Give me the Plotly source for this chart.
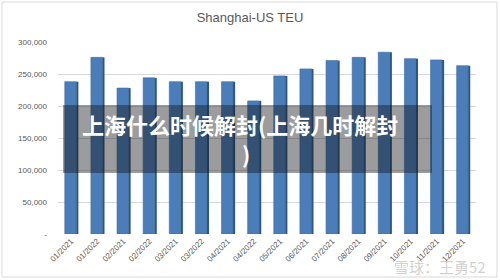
import plotly.graph_objects as go

categories = ["01/2021", "01/2022", "02/2021", "02/2022", "03/2021", "03/2022",
              "04/2021", "04/2022", "05/2021", "06/2021", "07/2021", "08/2021",
              "09/2021", "10/2021", "11/2021", "12/2021"]
teu = [238000, 276000, 228000, 244000, 238000, 238000, 238000, 208000,
       247000, 258000, 271000, 276000, 284000, 274000, 272000, 263000]
y_ticks = [0, 50000, 100000, 150000, 200000, 250000, 300000]
y_tick_labels = ["-", "50,000", "100,000", "150,000", "200,000", "250,000", "300,000"]
overlay_line1 = "上海什么时候解封(上海几时解封"
overlay_line2 = ")"

fig = go.Figure()
# front face
fig.add_trace(go.Bar(x=categories, y=teu, width=0.44, offset=-0.24,
                     marker=dict(color="#4a7ebb", line=dict(width=0.6, color="#3a6aa3")),
                     showlegend=False))
# side face (pseudo 3D)
fig.add_trace(go.Bar(x=categories, y=teu, width=0.08, offset=0.2,
                     marker=dict(color="#2c5783", line=dict(width=0)),
                     showlegend=False))

L, T, W, H = 58, 42, 418, 192

def px(xp):
    return (xp - L) / W

def py(yp):
    return (T + H - yp) / H

fig.update_layout(
    width=500, height=280,
    margin=dict(l=L, r=500 - L - W, t=T, b=280 - T - H),
    paper_bgcolor="white", plot_bgcolor="white",
    barmode="overlay",
    font=dict(family="Liberation Sans, Arial", color="#595959"),
    title=dict(text="Shanghai-US TEU", x=0.5, xanchor="center", y=1 - 17 / 280,
               yanchor="middle", font=dict(size=13, color="#595959",
                                           family="Liberation Sans, Arial")),
    xaxis=dict(type="category", tickangle=-45, tickfont=dict(size=8, color="#595959"),
               showgrid=False, showline=False, ticks=""),
    yaxis=dict(range=[0, 300000], tickvals=y_ticks, ticktext=y_tick_labels,
               tickfont=dict(size=8, color="#595959"), showgrid=True,
               gridcolor="#d9d9d9", gridwidth=1, zeroline=False, ticks="",
               ticklabelstandoff=10),
    shapes=[
        dict(type="rect", xref="paper", yref="paper",
             x0=px(63), x1=px(432), y0=py(173), y1=py(105),
             fillcolor="rgba(20,20,20,0.42)", line=dict(width=0), layer="above"),
        dict(type="rect", xref="paper", yref="paper",
             x0=px(2), x1=px(497), y0=py(277), y1=py(2),
             fillcolor="rgba(0,0,0,0)", line=dict(width=1, color="#d9d9d9")),
    ],
    annotations=[
        dict(text="<b>" + overlay_line1 + "</b>", xref="paper", yref="paper",
             x=px(240), y=py(124), xanchor="center", yanchor="middle", showarrow=False,
             font=dict(size=22, color="white", family="Noto Sans CJK SC")),
        dict(text="<b>" + overlay_line2 + "</b>", xref="paper", yref="paper",
             x=px(246), y=py(153), xanchor="center", yanchor="middle", showarrow=False,
             font=dict(size=22, color="white", family="Noto Sans CJK SC")),
        dict(text="雪球：王勇52", xref="paper", yref="paper",
             x=px(440), y=py(266), xanchor="center", yanchor="middle", showarrow=False,
             font=dict(size=15, color="rgba(150,150,150,0.45)", family="Noto Sans CJK SC")),
    ],
)

fig.write_html("out.html")
